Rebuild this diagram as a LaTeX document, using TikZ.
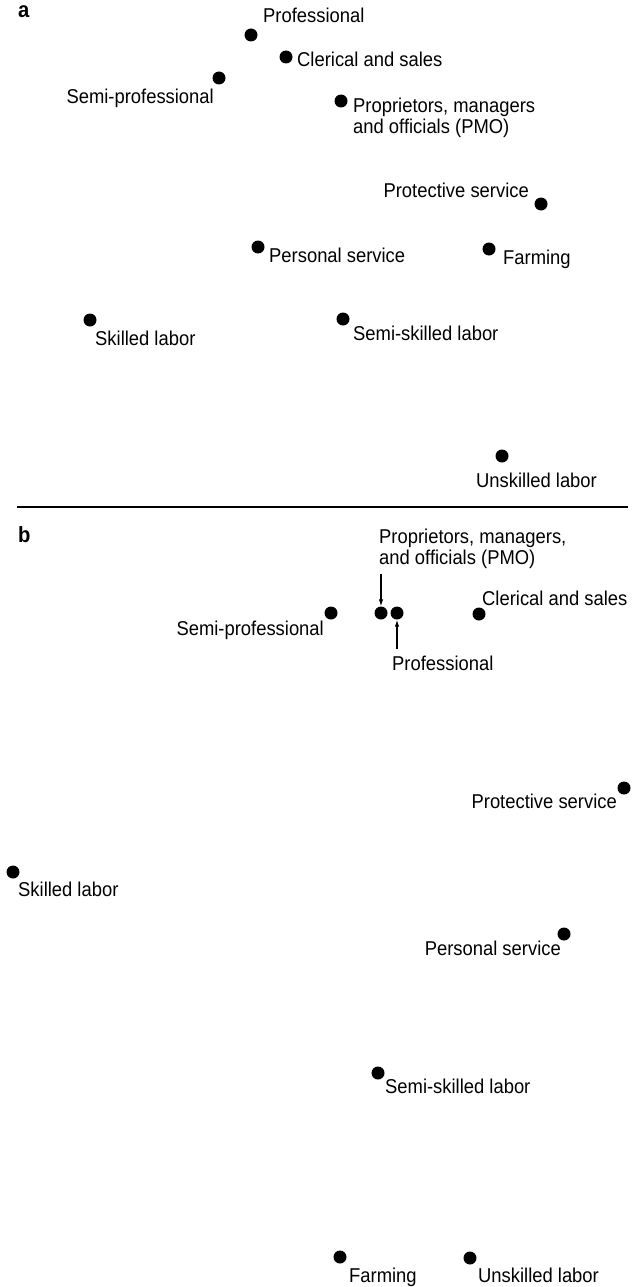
\documentclass[tikz,border=0pt]{standalone}
\usepackage{fontspec}
\setmainfont{Liberation Sans}[FakeStretch=0.92]
\usetikzlibrary{arrows.meta}
\tikzset{
  dot/.style={circle,fill=black,inner sep=0pt,minimum size=13pt},
  lbl/.style={inner sep=0pt,font=\fontsize{20}{21}\selectfont},
  panel/.style={inner sep=0pt,anchor=base west,font=\fontsize{22}{23}\selectfont\bfseries},
  arr/.style={line width=1.1pt,-{Latex[length=7pt,width=4.5pt]}}
}
\begin{document}
\begin{tikzpicture}[x=1pt,y=-1pt]
\useasboundingbox (0,0) rectangle (634,1287);
% panel a
\node[panel] (pa) at (18,18) {a};
\node[dot] (profA) at (251,35) {}; \node[lbl,anchor=base west] (profAL) at (263,23) {Professional};
\node[dot] (clerA) at (286,57) {}; \node[lbl,anchor=base west] (clerAL) at (297,67) {Clerical and sales};
\node[dot] (semiA) at (219,78) {}; \node[lbl,anchor=base east] (semiAL) at (214,104) {Semi-professional};
\node[dot] (pmoA) at (341,101) {}; \node[lbl,anchor=north west,align=left] (pmoAL) at (353,97.5) {Proprietors, managers\\and officials (PMO)};
\node[dot] (protA) at (541,204) {}; \node[lbl,anchor=base east] (protAL) at (529,197) {Protective service};
\node[dot] (persA) at (258,247) {}; \node[lbl,anchor=base west] (persAL) at (269,262) {Personal service};
\node[dot] (farmA) at (489,249) {}; \node[lbl,anchor=base west] (farmAL) at (503,264) {Farming};
\node[dot] (skilA) at (90,320) {}; \node[lbl,anchor=base west] (skilAL) at (95,345) {Skilled labor};
\node[dot] (sskA) at (343,319) {}; \node[lbl,anchor=base west] (sskAL) at (353,340) {Semi-skilled labor};
\node[dot] (unskA) at (502,456) {}; \node[lbl,anchor=base west] (unskAL) at (476,487) {Unskilled labor};
% divider
\coordinate (divL) at (17,507); \coordinate (divR) at (628,507);
\draw[line width=1.4pt] (divL) -- (divR);
% panel b
\node[panel] (pb) at (18,542) {b};
\node[dot] (pmoB) at (381,613) {}; \node[lbl,anchor=north west,align=left] (pmoBL) at (379,528.5) {Proprietors, managers,\\and officials (PMO)};
\node[dot] (profB) at (397,613) {}; \node[lbl,anchor=base west] (profBL) at (392,670) {Professional};
\draw[arr] ([yshift=-5pt]pmoBL.south -| pmoB) -- (pmoB);
\draw[arr] ([yshift=6.5pt]profBL.north -| profB) -- (profB);
\node[dot] (semiB) at (331,613) {}; \node[lbl,anchor=base east] (semiBL) at (324,635) {Semi-professional};
\node[dot] (clerB) at (479,614) {}; \node[lbl,anchor=base west] (clerBL) at (482,605) {Clerical and sales};
\node[dot] (protB) at (624,788) {}; \node[lbl,anchor=base east] (protBL) at (617,808) {Protective service};
\node[dot] (skilB) at (13,872) {}; \node[lbl,anchor=base west] (skilBL) at (18,896) {Skilled labor};
\node[dot] (persB) at (564,934) {}; \node[lbl,anchor=base east] (persBL) at (561,955) {Personal service};
\node[dot] (sskB) at (378,1073) {}; \node[lbl,anchor=base west] (sskBL) at (385,1093) {Semi-skilled labor};
\node[dot] (farmB) at (340,1257) {}; \node[lbl,anchor=base west] (farmBL) at (349,1282) {Farming};
\node[dot] (unskB) at (470,1258) {}; \node[lbl,anchor=base west] (unskBL) at (478,1282) {Unskilled labor};
\end{tikzpicture}
\end{document}
